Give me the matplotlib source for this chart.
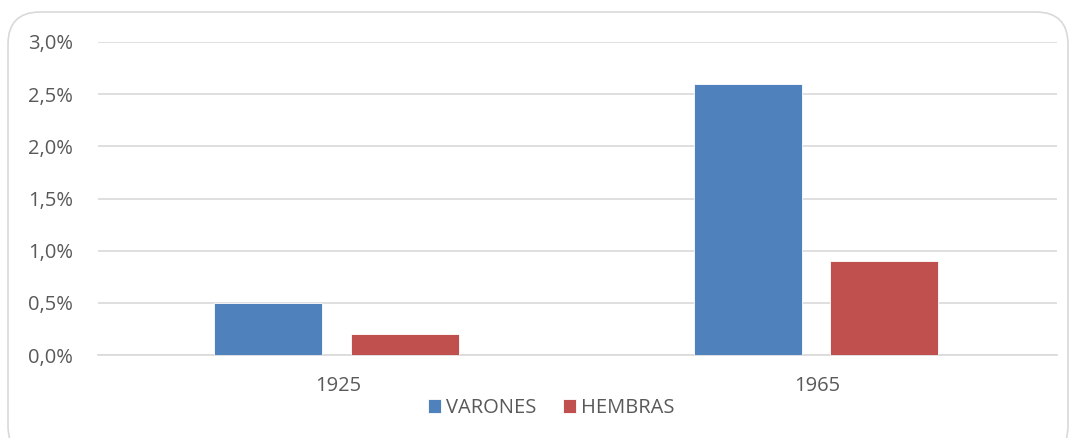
import matplotlib.pyplot as plt
import numpy as np
from matplotlib.patches import FancyBboxPatch
from matplotlib.ticker import FuncFormatter

# Data
years = ["1925", "1965"]
varones = [0.5, 2.6]
hembras = [0.2, 0.9]

plt.rcParams['font.family'] = ['Open Sans', 'DejaVu Sans']

fig = plt.figure(figsize=(10.73, 4.38), dpi=100)

# Rounded chart border (bottom edge runs off the canvas)
border = FancyBboxPatch((8 / 1073, -20 / 438), 1060 / 1073, 446 / 438,
                        boxstyle="round,pad=0,rounding_size=0.03",
                        transform=fig.transFigure, facecolor="none",
                        edgecolor="#d9d9d9", linewidth=1.2,
                        mutation_aspect=1073 / 438)
fig.patches.append(border)

ax = fig.add_axes([98 / 1073, 1 - 355 / 438, 959 / 1073, 313 / 438])

x = np.arange(len(years))
w = 0.225
ax.bar(x - 0.145, varones, w, color="#4F81BD", edgecolor="white", linewidth=0.6, label="VARONES", zorder=3)
ax.bar(x + 0.14, hembras, w, color="#C0504D", edgecolor="white", linewidth=0.6, label="HEMBRAS", zorder=3)

ax.set_xlim(-0.5, 1.5)
ax.set_ylim(0, 3.0)
ax.set_yticks(np.arange(0, 3.01, 0.5))
ax.yaxis.set_major_formatter(FuncFormatter(lambda v, p: f"{v:.1f}%".replace(".", ",")))
ax.set_xticks(x)
ax.set_xticklabels(years)

ax.grid(axis="y", color="#d9d9d9", linewidth=1.2, zorder=0)
for s in ["top", "right", "left"]:
    ax.spines[s].set_visible(False)
ax.spines["bottom"].set_color("#d9d9d9")
ax.spines["bottom"].set_linewidth(1.2)
ax.tick_params(axis="both", length=0, labelsize=14.5, colors="#595959")
ax.tick_params(axis="y", pad=18)
ax.tick_params(axis="x", pad=15)

leg = ax.legend(loc="center", bbox_to_anchor=(551 / 1073, 1 - 408 / 438),
                bbox_transform=fig.transFigure, ncol=2, frameon=False,
                fontsize=14.5, handlelength=0.65, handleheight=0.65,
                handletextpad=0.25, columnspacing=1.3)
for t in leg.get_texts():
    t.set_color("#595959")

fig.savefig("out.png", dpi=100)
